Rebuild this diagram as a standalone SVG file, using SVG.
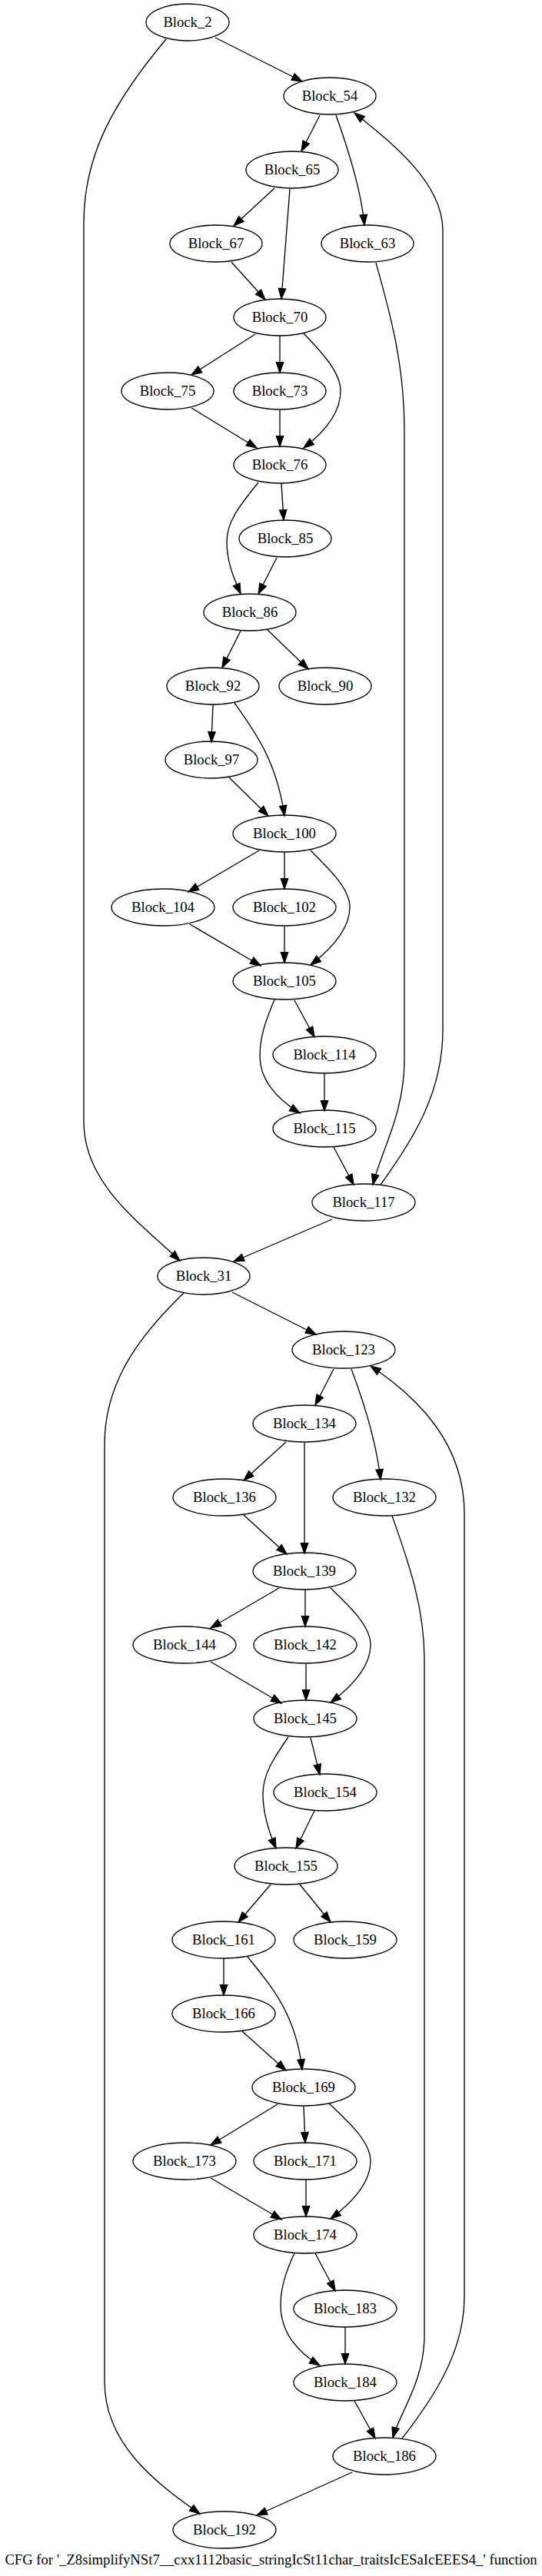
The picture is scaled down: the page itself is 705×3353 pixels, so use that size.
<svg xmlns="http://www.w3.org/2000/svg" width="705" height="3353" viewBox="0 0 705 3353">
<style>
.n ellipse{fill:none;stroke:#000;stroke-width:1.33}
.n text{font-family:"Liberation Serif","Times New Roman",serif;font-size:18.67px;text-anchor:middle;fill:#000}
.e path{fill:none;stroke:#000;stroke-width:1.33;marker-end:url(#ah)}
.cap{font-family:"Liberation Serif","Times New Roman",serif;font-size:18.67px;text-anchor:middle;fill:#000}
</style>
<defs>
<marker id="ah" markerUnits="userSpaceOnUse" markerWidth="16" markerHeight="12" refX="13.33" refY="4.67" orient="auto" overflow="visible">
<path d="M0,0 L13.33,4.67 L0,9.33 z" fill="#000" stroke="#000" stroke-width="1.33"/>
</marker>
</defs>
<rect width="705" height="3353" fill="#fff"/>
<g id="edges" class="e">
<path d="M280,49 L393,106"/>
<path d="M216,51 C150,130 109,200 109,290 L109,1460 C109,1540 180,1590 234,1641"/>
<path d="M416,150 L392,197"/>
<path d="M437,150 C455,200 470,250 474,293"/>
<path d="M495,1542 C540,1480 576,1420 576,1340 L576,300 C576,240 515,190 461,147"/>
<path d="M357,245 L304,294"/>
<path d="M377,246 L366,389"/>
<path d="M301,341 L345,390"/>
<path d="M489,342 C505,400 526,470 526,560 L526,1380 C526,1450 495,1500 485,1542"/>
<path d="M332,435 L249,488"/>
<path d="M364,437 L364,485"/>
<path d="M395,434 C420,460 443,485 443,509 C443,535 425,560 395,583"/>
<path d="M249,531 L334,583"/>
<path d="M364,534 L364,581"/>
<path d="M366,629 L369,677"/>
<path d="M336,628 C310,660 295,680 295,705 C295,730 303,750 313,773"/>
<path d="M360,726 L336,773"/>
<path d="M313,821 L289,869"/>
<path d="M348,820 L401,871"/>
<path d="M277,917 L275,966"/>
<path d="M305,915 C330,950 360,990 370,1062"/>
<path d="M298,1012 L349,1062"/>
<path d="M337,1107 L245,1161"/>
<path d="M370,1109 L370,1157"/>
<path d="M404,1107 C430,1133 455,1157 455,1181 C455,1207 435,1232 404,1256"/>
<path d="M247,1203 L339,1257"/>
<path d="M370,1206 L370,1253"/>
<path d="M383,1302 L409,1350"/>
<path d="M357,1301 C345,1330 338,1350 338,1375 C338,1405 360,1430 390,1449"/>
<path d="M422,1397 L422,1446"/>
<path d="M434,1493 L460,1542"/>
<path d="M432,1587 L304,1642"/>
<path d="M302,1682 L411,1737"/>
<path d="M239,1683 C180,1740 136,1800 136,1880 L136,3100 C136,3180 200,3230 260,3272"/>
<path d="M434,1782 L410,1829"/>
<path d="M457,1782 C475,1830 490,1880 495,1926"/>
<path d="M523,3174 C565,3120 604,3060 604,2990 L604,1970 C604,1880 545,1820 482,1778"/>
<path d="M372,1877 L317,1927"/>
<path d="M396,1878 L396,2022"/>
<path d="M317,1972 L373,2023"/>
<path d="M510,1973 C530,2030 552,2090 552,2160 L552,3040 C552,3100 520,3140 511,3173"/>
<path d="M363,2067 L274,2119"/>
<path d="M397,2069 L397,2117"/>
<path d="M430,2067 C457,2093 482,2117 482,2141 C482,2167 462,2192 430,2216"/>
<path d="M274,2163 L366,2217"/>
<path d="M398,2166 L398,2213"/>
<path d="M404,2262 L416,2310"/>
<path d="M375,2261 C355,2290 342,2310 342,2335 C342,2360 350,2385 359,2406"/>
<path d="M409,2357 L385,2406"/>
<path d="M352,2453 L310,2502"/>
<path d="M390,2453 L430,2502"/>
<path d="M291,2549 L291,2597"/>
<path d="M322,2547 C350,2582 385,2620 393,2694"/>
<path d="M315,2644 L372,2695"/>
<path d="M361,2739 L274,2792"/>
<path d="M395,2742 L397,2789"/>
<path d="M428,2738 C457,2765 482,2789 482,2813 C482,2839 462,2864 430,2888"/>
<path d="M274,2835 L366,2889"/>
<path d="M398,2837 L398,2885"/>
<path d="M410,2933 L436,2982"/>
<path d="M383,2933 C370,2960 365,2980 365,3000 C365,3035 385,3060 416,3079"/>
<path d="M449,3029 L449,3077"/>
<path d="M461,3125 L488,3174"/>
<path d="M458,3218 L334,3274"/>
</g>
<g id="node_Block_2" class="n"><ellipse cx="244" cy="29" rx="54" ry="24"/><text x="244" y="34.5">Block_2</text></g>
<g id="node_Block_54" class="n"><ellipse cx="429" cy="125" rx="60" ry="24"/><text x="429" y="130.5">Block_54</text></g>
<g id="node_Block_65" class="n"><ellipse cx="380" cy="221" rx="60" ry="24"/><text x="380" y="226.5">Block_65</text></g>
<g id="node_Block_67" class="n"><ellipse cx="281" cy="317" rx="60" ry="24"/><text x="281" y="322.5">Block_67</text></g>
<g id="node_Block_63" class="n"><ellipse cx="478" cy="317" rx="60" ry="24"/><text x="478" y="322.5">Block_63</text></g>
<g id="node_Block_70" class="n"><ellipse cx="364" cy="413" rx="60" ry="24"/><text x="364" y="418.5">Block_70</text></g>
<g id="node_Block_75" class="n"><ellipse cx="218" cy="509" rx="60" ry="24"/><text x="218" y="514.5">Block_75</text></g>
<g id="node_Block_73" class="n"><ellipse cx="364" cy="509" rx="60" ry="24"/><text x="364" y="514.5">Block_73</text></g>
<g id="node_Block_76" class="n"><ellipse cx="364" cy="605" rx="60" ry="24"/><text x="364" y="610.5">Block_76</text></g>
<g id="node_Block_85" class="n"><ellipse cx="371" cy="701" rx="60" ry="24"/><text x="371" y="706.5">Block_85</text></g>
<g id="node_Block_86" class="n"><ellipse cx="325" cy="797" rx="60" ry="24"/><text x="325" y="802.5">Block_86</text></g>
<g id="node_Block_92" class="n"><ellipse cx="277" cy="893" rx="60" ry="24"/><text x="277" y="898.5">Block_92</text></g>
<g id="node_Block_90" class="n"><ellipse cx="423" cy="893" rx="60" ry="24"/><text x="423" y="898.5">Block_90</text></g>
<g id="node_Block_97" class="n"><ellipse cx="275" cy="989" rx="60" ry="24"/><text x="275" y="994.5">Block_97</text></g>
<g id="node_Block_100" class="n"><ellipse cx="370" cy="1085" rx="67" ry="24"/><text x="370" y="1090.5">Block_100</text></g>
<g id="node_Block_104" class="n"><ellipse cx="212" cy="1181" rx="67" ry="24"/><text x="212" y="1186.5">Block_104</text></g>
<g id="node_Block_102" class="n"><ellipse cx="370" cy="1181" rx="67" ry="24"/><text x="370" y="1186.5">Block_102</text></g>
<g id="node_Block_105" class="n"><ellipse cx="370" cy="1277" rx="67" ry="24"/><text x="370" y="1282.5">Block_105</text></g>
<g id="node_Block_114" class="n"><ellipse cx="422" cy="1373" rx="67" ry="24"/><text x="422" y="1378.5">Block_114</text></g>
<g id="node_Block_115" class="n"><ellipse cx="422" cy="1469" rx="67" ry="24"/><text x="422" y="1474.5">Block_115</text></g>
<g id="node_Block_117" class="n"><ellipse cx="473" cy="1565" rx="67" ry="24"/><text x="473" y="1570.5">Block_117</text></g>
<g id="node_Block_31" class="n"><ellipse cx="265" cy="1661" rx="60" ry="24"/><text x="265" y="1666.5">Block_31</text></g>
<g id="node_Block_123" class="n"><ellipse cx="447" cy="1757" rx="67" ry="24"/><text x="447" y="1762.5">Block_123</text></g>
<g id="node_Block_134" class="n"><ellipse cx="396" cy="1853" rx="67" ry="24"/><text x="396" y="1858.5">Block_134</text></g>
<g id="node_Block_136" class="n"><ellipse cx="292" cy="1949" rx="67" ry="24"/><text x="292" y="1954.5">Block_136</text></g>
<g id="node_Block_132" class="n"><ellipse cx="500" cy="1949" rx="67" ry="24"/><text x="500" y="1954.5">Block_132</text></g>
<g id="node_Block_139" class="n"><ellipse cx="396" cy="2045" rx="67" ry="24"/><text x="396" y="2050.5">Block_139</text></g>
<g id="node_Block_144" class="n"><ellipse cx="240" cy="2141" rx="67" ry="24"/><text x="240" y="2146.5">Block_144</text></g>
<g id="node_Block_142" class="n"><ellipse cx="397" cy="2141" rx="67" ry="24"/><text x="397" y="2146.5">Block_142</text></g>
<g id="node_Block_145" class="n"><ellipse cx="397" cy="2237" rx="67" ry="24"/><text x="397" y="2242.5">Block_145</text></g>
<g id="node_Block_154" class="n"><ellipse cx="423" cy="2333" rx="67" ry="24"/><text x="423" y="2338.5">Block_154</text></g>
<g id="node_Block_155" class="n"><ellipse cx="372" cy="2429" rx="67" ry="24"/><text x="372" y="2434.5">Block_155</text></g>
<g id="node_Block_161" class="n"><ellipse cx="291" cy="2525" rx="67" ry="24"/><text x="291" y="2530.5">Block_161</text></g>
<g id="node_Block_159" class="n"><ellipse cx="449" cy="2525" rx="67" ry="24"/><text x="449" y="2530.5">Block_159</text></g>
<g id="node_Block_166" class="n"><ellipse cx="291" cy="2621" rx="67" ry="24"/><text x="291" y="2626.5">Block_166</text></g>
<g id="node_Block_169" class="n"><ellipse cx="395" cy="2717" rx="67" ry="24"/><text x="395" y="2722.5">Block_169</text></g>
<g id="node_Block_173" class="n"><ellipse cx="240" cy="2813" rx="67" ry="24"/><text x="240" y="2818.5">Block_173</text></g>
<g id="node_Block_171" class="n"><ellipse cx="397" cy="2813" rx="67" ry="24"/><text x="397" y="2818.5">Block_171</text></g>
<g id="node_Block_174" class="n"><ellipse cx="397" cy="2909" rx="67" ry="24"/><text x="397" y="2914.5">Block_174</text></g>
<g id="node_Block_183" class="n"><ellipse cx="449" cy="3005" rx="67" ry="24"/><text x="449" y="3010.5">Block_183</text></g>
<g id="node_Block_184" class="n"><ellipse cx="449" cy="3101" rx="67" ry="24"/><text x="449" y="3106.5">Block_184</text></g>
<g id="node_Block_186" class="n"><ellipse cx="500" cy="3197" rx="67" ry="24"/><text x="500" y="3202.5">Block_186</text></g>
<g id="node_Block_192" class="n"><ellipse cx="292" cy="3293" rx="67" ry="24"/><text x="292" y="3298.5">Block_192</text></g>
<text class="cap" x="352.5" y="3338">CFG for '_Z8simplifyNSt7__cxx1112basic_stringIcSt11char_traitsIcESaIcEEES4_' function</text>
</svg>
